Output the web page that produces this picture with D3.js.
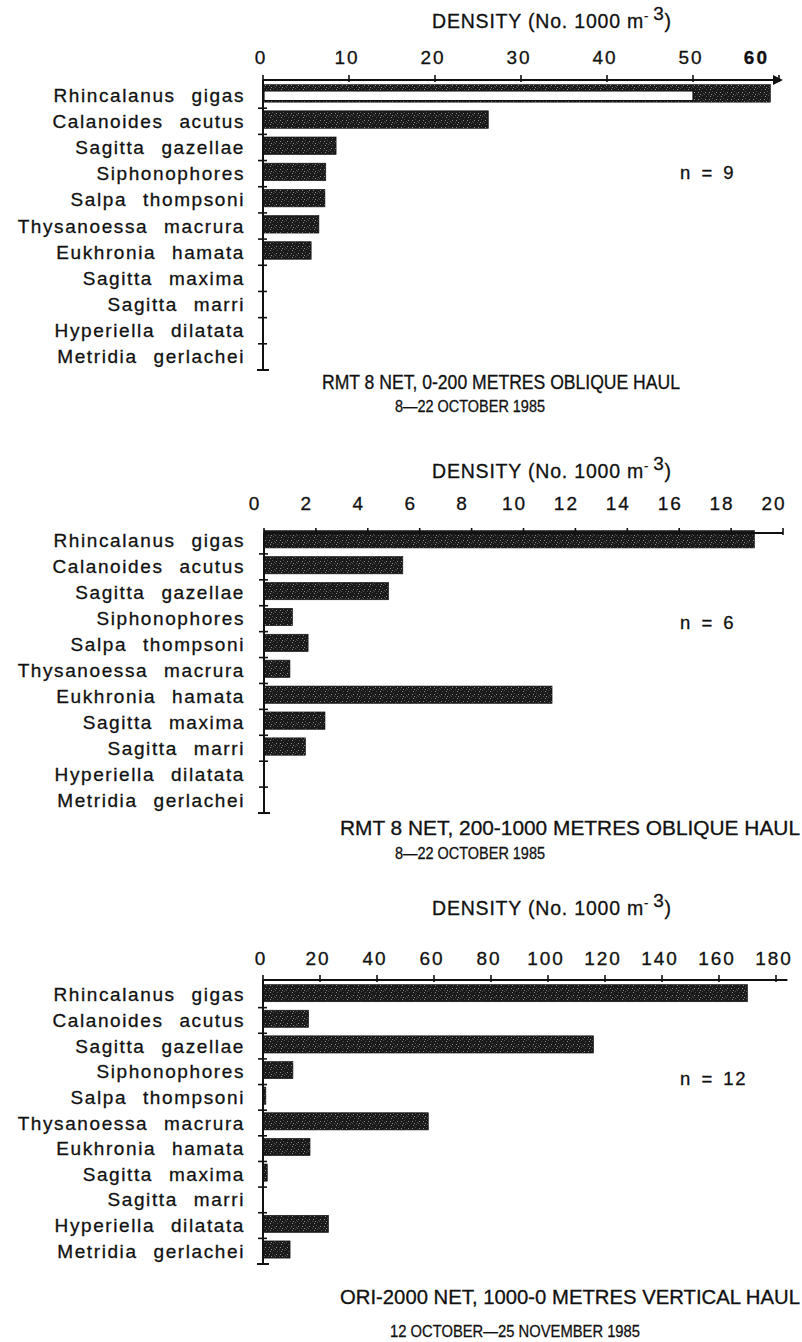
<!DOCTYPE html>
<html><head><meta charset="utf-8">
<script src="https://cdn.jsdelivr.net/npm/d3@7"></script>
<style>
html,body{margin:0;padding:0;background:#fff;}
svg{display:block;}
text{font-family:"Liberation Sans",Arial,Helvetica,sans-serif;fill:#111;stroke:#111;stroke-width:0.3px;}
</style></head><body>
<svg id="chart" width="802" height="1342"></svg>
<script>
// ---------------- DATA ----------------
const species = ["Rhincalanus gigas","Calanoides acutus","Sagitta gazellae","Siphonophores","Salpa thompsoni","Thysanoessa macrura","Eukhronia hamata","Sagitta maxima","Sagitta marri","Hyperiella dilatata","Metridia gerlachei"];
const densityRmt0to200 = [59, 26.2, 8.5, 7.3, 7.2, 6.5, 5.6, 0, 0, 0, 0];
const densityRmt200to1000 = [18.9, 5.35, 4.8, 1.1, 1.7, 1.0, 11.1, 2.35, 1.6, 0, 0];
const densityOri1000to0 = [170, 16, 116, 10.5, 1, 58, 16.5, 1.5, 0, 23, 9.5];
const ticksRmt0to200 = [0, 10, 20, 30, 40, 50, 60];
const ticksRmt200to1000 = [0, 2, 4, 6, 8, 10, 12, 14, 16, 18, 20];
const ticksOri1000to0 = [0, 20, 40, 60, 80, 100, 120, 140, 160, 180];
const scaleBreakRmt0to200 = 50;
const sampleCounts = [9, 6, 12];
const haulTitles = ["RMT 8 NET, 0-200 METRES OBLIQUE HAUL", "RMT 8 NET, 200-1000 METRES OBLIQUE HAUL", "ORI-2000 NET, 1000-0 METRES VERTICAL HAUL"];
const haulDates = ["8\u201422 OCTOBER 1985", "8\u201422 OCTOBER 1985", "12 OCTOBER\u201425 NOVEMBER 1985"];
const axisTitleMain = "DENSITY (No. 1000 m";
const axisTitleSup1 = "-";
const axisTitleSup2 = "3";

// ---------------- LAYOUT ----------------
const panels = [
  {values: densityRmt0to200, ticks: ticksRmt0to200, domain:[0,60], range:[263,779], lineEnd:60,
   axisY:80, top:82, bottom:370, tickLabelY:64, tickDx:-3, densY:28,
   nY:179, title:{x:322,y:389,w:358,fs:19.5}, date:{x:395,y:412,w:150,fs:16.5}, arrow:true, brk:scaleBreakRmt0to200},
  {values: densityRmt200to1000, ticks: ticksRmt200to1000, domain:[0,20], range:[264,783], lineEnd:20,
   axisY:533, top:528, bottom:813, tickLabelY:510, tickDx:-10, densY:478,
   nY:629, title:{x:340,y:835,w:460,fs:20}, date:{x:395,y:859,w:150,fs:16.5}},
  {values: densityOri1000to0, ticks: ticksOri1000to0, domain:[0,180], range:[263,776], lineEnd:184,
   axisY:980, top:982, bottom:1264, tickLabelY:965, tickDx:-3, densY:915,
   nY:1085, title:{x:340,y:1304,w:460,fs:19.5}, date:{x:390,y:1337,w:250,fs:17}}
];

const svg = d3.select("#chart");
svg.append("rect").attr("width",802).attr("height",1342).attr("fill","#fff");

// speckled texture for bars
const defs = svg.append("defs");
const pat = defs.append("pattern").attr("id","speck").attr("patternUnits","userSpaceOnUse")
  .attr("width",11).attr("height",7);
pat.append("rect").attr("width",11).attr("height",7).attr("fill","#1a1a1a");
[[1,1],[4,3],[8,0],[6,5],[2,5],[9,4],[5,1],[10,2],[0,3],[7,3]].forEach(([x,y],i)=>{
  pat.append("rect").attr("x",x).attr("y",y).attr("width",1).attr("height",1)
    .attr("fill", i%3===0 ? "#8a8a8a" : "#505050");
});

panels.forEach((p, pi) => {
  const g = svg.append("g");
  const x = d3.scaleLinear().domain(p.domain).range(p.range);
  const y = d3.scaleBand().domain(species).range([p.top, p.bottom]).padding(0);
  const bw = y.bandwidth();
  const x0 = x(0);

  // axis title
  const t = g.append("text").attr("x", 432).attr("y", p.densY).attr("font-size", 19.5).attr("letter-spacing", 0.8);
  t.append("tspan").text(axisTitleMain);
  t.append("tspan").attr("dy", -8).attr("font-size", 13).text(axisTitleSup1);
  t.append("tspan").attr("dx", 4).attr("font-size", 19).text(axisTitleSup2);
  t.append("tspan").attr("dy", 8).text(")");

  // tick labels
  const last = p.ticks.length - 1;
  g.selectAll(".tl").data(p.ticks).join("text")
    .attr("x", (d,i) => (p.arrow && i === last) ? x(d) - 10 : x(d) + p.tickDx + 1)
    .attr("y", p.tickLabelY)
    .attr("text-anchor", (d,i) => (p.arrow && i === last) ? "end" : "middle")
    .attr("font-size", 19).attr("letter-spacing", 2)
    .attr("font-weight", (d,i) => (p.arrow && i === last) ? "bold" : "normal")
    .text(d => d);

  // bars
  g.selectAll(".bar").data(p.values.map((v,i)=>({v, s:species[i]}))).join("rect")
    .attr("x", x0).attr("y", d => y(d.s) + bw*0.1)
    .attr("width", d => Math.max(0, x(d.v) - x0)).attr("height", bw*0.67)
    .attr("fill", "url(#speck)").attr("stroke","#111").attr("stroke-width",0.6)
    .attr("display", d => d.v > 0 ? null : "none");

  // scale break inset (white strip) on first bar of panel 1
  if (p.brk !== undefined) {
    const by = y(species[0]) + bw*0.1;
    const bh = bw*0.67;
    g.append("rect").attr("x", x0+1).attr("y", by + bh*0.36)
      .attr("width", x(p.brk) - x0 - 1).attr("height", bh*0.55)
      .attr("fill","#fff").attr("stroke","#111").attr("stroke-width",1.2);
  }

  // x axis line
  g.append("line").attr("x1", x0).attr("x2", x(p.lineEnd)).attr("y1", p.axisY).attr("y2", p.axisY)
    .attr("stroke","#111").attr("stroke-width",2);
  g.selectAll(".xt").data(p.ticks).join("line")
    .attr("x1", d=>x(d)).attr("x2", d=>x(d)).attr("y1", p.axisY-5).attr("y2", p.axisY+2)
    .attr("stroke","#111").attr("stroke-width",1.6);
  if (p.arrow) {
    const ex = x(p.lineEnd);
    g.append("path").attr("d", `M${ex-6},${p.axisY-5} L${ex+4},${p.axisY} L${ex-6},${p.axisY+5} Z`).attr("fill","#111");
  }

  // y axis
  g.append("line").attr("x1", x0).attr("x2", x0).attr("y1", p.axisY).attr("y2", p.bottom)
    .attr("stroke","#111").attr("stroke-width",2);
  const bounds = species.slice(1).map(s => y(s));
  g.selectAll(".yt").data(bounds).join("line")
    .attr("x1", x0-5).attr("x2", x0+4).attr("y1", d=>d).attr("y2", d=>d)
    .attr("stroke","#111").attr("stroke-width",1.6);
  g.append("line").attr("x1", x0-6).attr("x2", x0+6).attr("y1", p.bottom).attr("y2", p.bottom)
    .attr("stroke","#111").attr("stroke-width",2);

  // species labels
  g.selectAll(".sl").data(species).join("text")
    .attr("x", 245).attr("y", d => y(d) + bw/2 + 6.5)
    .attr("text-anchor","end").attr("font-size", 19).attr("letter-spacing", 1.6)
    .attr("word-spacing", 9)
    .text(d => d);

  // n label
  g.append("text").attr("x", 680).attr("y", p.nY).attr("font-size", 18.5).attr("letter-spacing", 1.5)
    .attr("word-spacing", 3).text("n = " + sampleCounts[pi]);

  // haul title & date
  g.append("text").attr("x", p.title.x).attr("y", p.title.y).attr("font-size", p.title.fs)
    .attr("textLength", p.title.w).attr("lengthAdjust","spacingAndGlyphs").text(haulTitles[pi]);
  g.append("text").attr("x", p.date.x).attr("y", p.date.y).attr("font-size", p.date.fs)
    .attr("textLength", p.date.w).attr("lengthAdjust","spacingAndGlyphs").text(haulDates[pi]);
});
</script>
</body></html>
